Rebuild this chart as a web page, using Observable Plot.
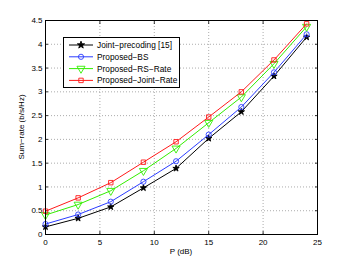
<!DOCTYPE html>
<html><head><meta charset="utf-8">
<script src="https://cdn.jsdelivr.net/npm/d3@7"></script>
<script src="https://cdn.jsdelivr.net/npm/@observablehq/plot@0.6"></script>
<style>
html,body{margin:0;padding:0;background:#fff;}
#chart{width:350px;height:264px;position:relative;}
svg{font-family:"Liberation Sans",Arial,sans-serif;}
</style>
</head><body><div id="chart"></div>
<script>
const P = [0, 3, 6, 9, 12, 15, 18, 21, 24];
const seriesNames = ["Joint\u2212precoding [15]", "Proposed\u2212BS", "Proposed\u2212RS\u2212Rate", "Proposed\u2212Joint\u2212Rate"];
const jointPrecoding = [0.16, 0.34, 0.58, 0.98, 1.39, 2.02, 2.58, 3.33, 4.15];
const proposedBS = [0.22, 0.42, 0.69, 1.11, 1.54, 2.10, 2.68, 3.41, 4.21];
const proposedRS = [0.41, 0.63, 0.92, 1.34, 1.81, 2.35, 2.89, 3.59, 4.37];
const proposedJoint = [0.49, 0.77, 1.09, 1.52, 1.95, 2.47, 3.00, 3.67, 4.43];
const xTicks = [0, 5, 10, 15, 20, 25];
const yTicks = [0, 0.5, 1, 1.5, 2, 2.5, 3, 3.5, 4, 4.5];

const seriesValues = [jointPrecoding, proposedBS, proposedRS, proposedJoint];
const colors = ["#000000", "#2b3cff", "#33ee00", "#ff1a1a"];
const symbols = ["star", "circle", "triangle", "square"];
const fills = ["#000000", "none", "none", "none"];
const rotates = [0, 0, 180, 0];
const radii = [2.0, 2.6, 3.0, 2.5];

const data = [];
seriesNames.forEach((s, i) => P.forEach((p, j) => data.push({series: s, idx: i, P: p, rate: seriesValues[i][j]})));

const marks = [
  Plot.gridX(xTicks, {stroke: "#888", strokeOpacity: 1, strokeDasharray: "1,2", strokeWidth: 0.7}),
  Plot.gridY(yTicks, {stroke: "#888", strokeOpacity: 1, strokeDasharray: "1,2", strokeWidth: 0.7}),
  Plot.axisX(xTicks, {anchor: "bottom", tickSize: 0, tickPadding: 5, fontSize: 8, label: null, tickFormat: d => String(d)}),
  Plot.axisY(yTicks, {anchor: "left", tickSize: 0, tickPadding: 3, fontSize: 8, label: null, tickFormat: d => String(d)}),
  Plot.axisX(xTicks, {anchor: "bottom", tickSize: -3, text: null, label: null, strokeWidth: 0.8}),
  Plot.axisX(xTicks, {anchor: "top", tickSize: -3, text: null, label: null, strokeWidth: 0.8}),
  Plot.axisY(yTicks, {anchor: "left", tickSize: -3, text: null, label: null, strokeWidth: 0.8}),
  Plot.axisY(yTicks, {anchor: "right", tickSize: -3, text: null, label: null, strokeWidth: 0.8}),
];
seriesNames.forEach((s, i) => {
  const d = data.filter(r => r.idx === i);
  marks.push(Plot.line(d, {x: "P", y: "rate", stroke: colors[i], strokeWidth: 1}));
  marks.push(Plot.dot(d, {x: "P", y: "rate", symbol: () => symbols[i], r: radii[i], stroke: colors[i], fill: fills[i], strokeWidth: 0.9, rotate: rotates[i]}));
});
marks.push(Plot.frame({stroke: "#000", strokeWidth: 1}));

const plot = Plot.plot({
  width: 350, height: 264,
  marginLeft: 45, marginRight: 33, marginTop: 20, marginBottom: 30,
  style: {fontFamily: "Liberation Sans, Arial, sans-serif", fontSize: "8px", color: "#000", background: "#fff"},
  x: {domain: [0, 25], axis: null},
  y: {domain: [0, 4.5], axis: null},
  symbol: {type: "identity"},
  marks
});
document.getElementById("chart").appendChild(plot);

// Axis labels and legend
const svg = d3.select(plot);
svg.append("text").attr("x", 181).attr("y", 254).attr("text-anchor", "middle")
  .attr("font-size", 8).attr("fill", "#000").text("P (dB)");
svg.append("text").attr("transform", "translate(24,127) rotate(-90)").attr("text-anchor", "middle")
  .attr("font-size", 8).attr("fill", "#000").text("Sum\u2212rate (b/s/Hz)");

const lg = svg.append("g").attr("text-anchor", "start");
lg.append("rect").attr("x", 63.5).attr("y", 37.5).attr("width", 116).attr("height", 50)
  .style("fill", "#fff").style("stroke", "#000").style("stroke-width", "1px");
const symMap = {star: d3.symbolStar, circle: d3.symbolCircle, triangle: d3.symbolTriangle, square: d3.symbolSquare};
seriesNames.forEach((s, i) => {
  const y = 45 + i * 11.8;
  lg.append("line").attr("x1", 69).attr("x2", 93).attr("y1", y).attr("y2", y)
    .style("stroke", colors[i]).style("stroke-width", "1px");
  const sym = d3.symbol(symMap[symbols[i]], Math.PI * radii[i] * radii[i] * (symbols[i] === "star" ? 1.3 : 1));
  lg.append("path").attr("d", sym()).attr("transform", `translate(81,${y}) rotate(${rotates[i]})`)
    .style("fill", fills[i]).style("stroke", colors[i]).style("stroke-width", "0.9px");
  lg.append("text").attr("x", 97).attr("y", y).attr("dy", "0.35em").attr("text-anchor", "start")
    .attr("font-size", 8.3).attr("fill", "#000").text(s);
});
</script>
</body></html>
